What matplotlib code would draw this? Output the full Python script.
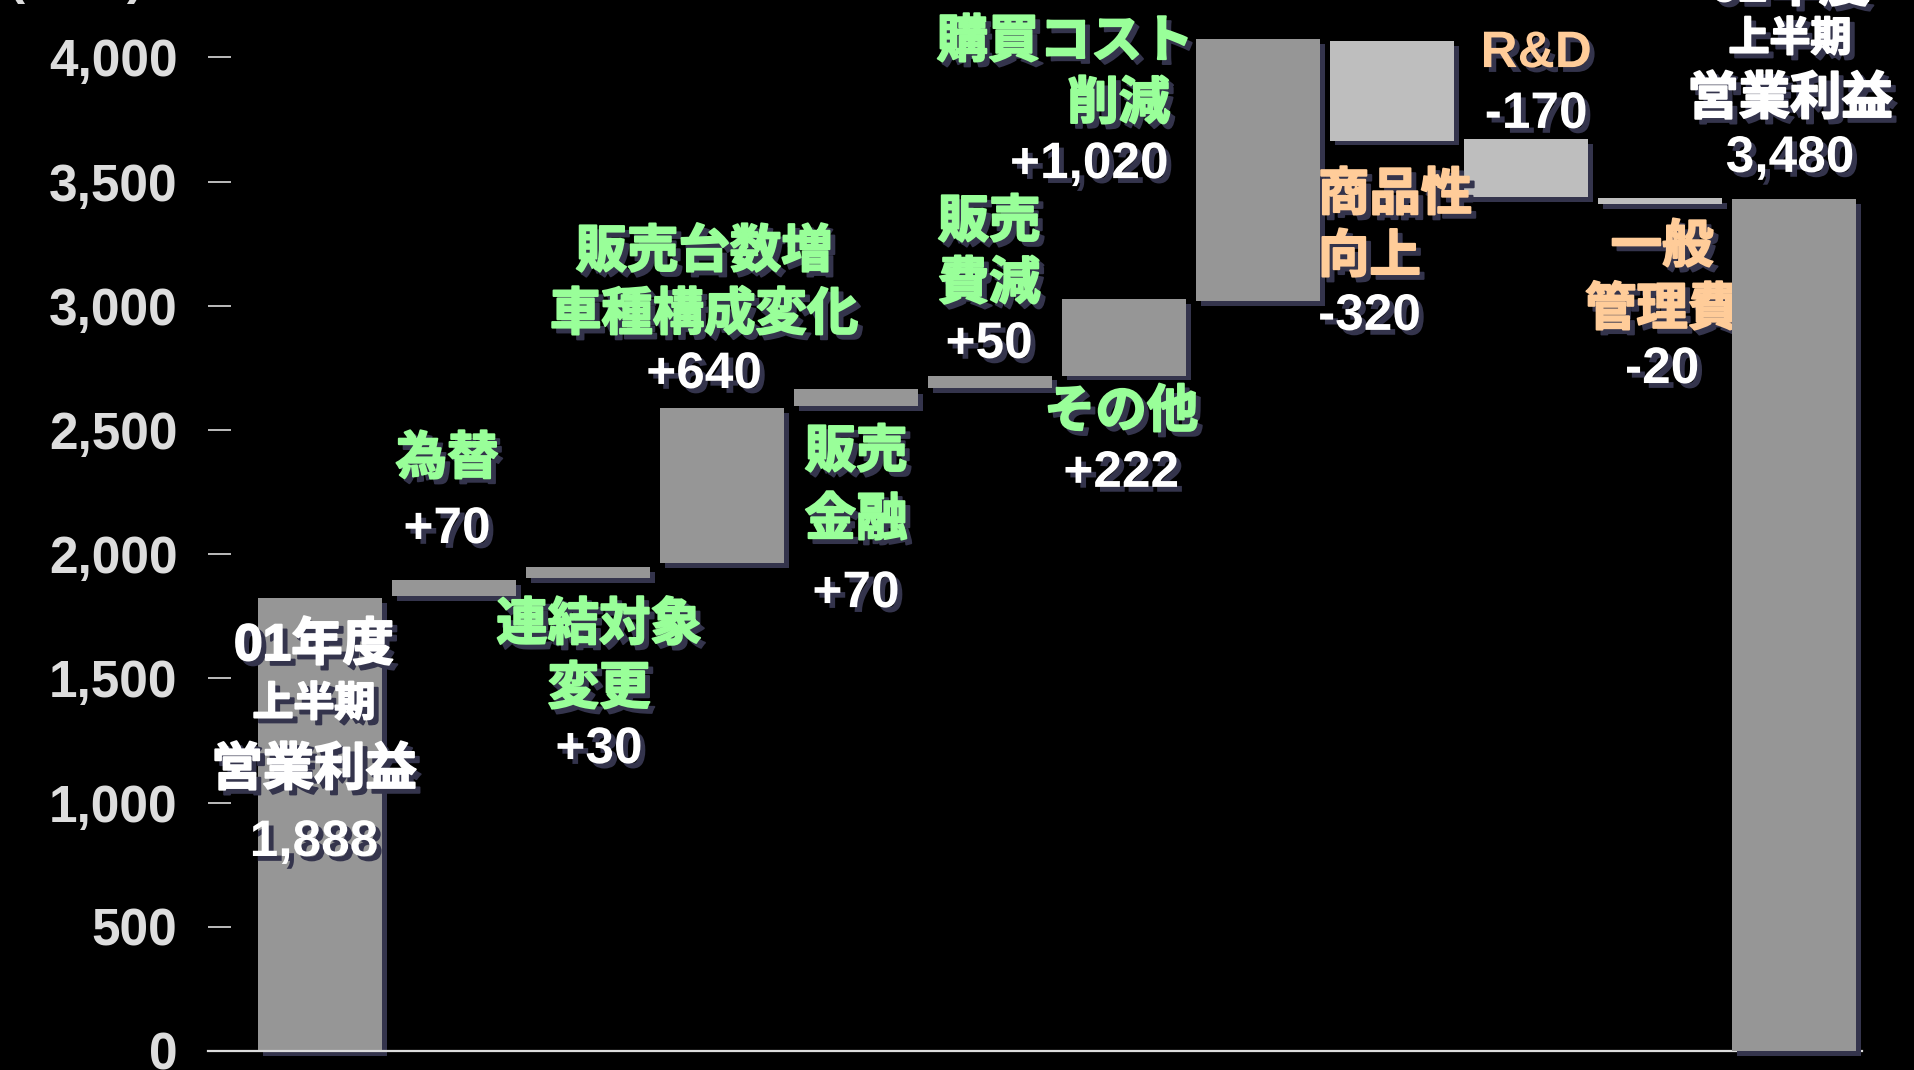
import matplotlib
matplotlib.use("Agg")
import matplotlib.pyplot as plt
import matplotlib.patheffects as pe

# operating profit bridge, 億円 (01年度上半期 -> 02年度上半期)
steps = ["01年度\n上半期\n営業利益", "為替", "連結対象\n変更", "販売台数増\n車種構成変化",
         "販売\n金融", "販売\n費減", "その他", "購買コスト\n削減", "商品性\n向上", "R&D",
         "一般\n管理費", "02年度\n上半期\n営業利益"]
value_text = ["1,888", "+70", "+30", "+640", "+70", "+50", "+222", "+1,020",
              "-320", "-170", "-20", "3,480"]
# bar extents as drawn on the slide (hand-drawn, not exactly to scale with the labels)
bar_low = [0, 1832, 1905, 1965, 2598, 2670, 2719, 3019, 3665, 3439, 3409, 0]
bar_high = [1825, 1896, 1947, 2589, 2664, 2719, 3027, 4073, 4065, 3670, 3433, 3429]
ytick_vals = [0, 500, 1000, 1500, 2000, 2500, 3000, 3500, 4000]
ytick_text = ["0", "500", "1,000", "1,500", "2,000", "2,500", "3,000", "3,500", "4,000"]

GREEN, PEACH, WHITE = "#99ff99", "#ffcc99", "#ffffff"
SHADOW = "#34344c"
name_color = [WHITE] + [GREEN] * 7 + [PEACH] * 3 + [WHITE]
bar_color = ["#969696"] * 8 + ["#bebebe"] * 3 + ["#969696"]

# label anchor x (one per block or one per line), alignment, baseline of every line
label_pos = [
    (-0.045, "center", [1574, 1349, 1071, 785]),
    (0.948, "center", [2323, 2045]),
    (2.082, "center", [1655, 1397, 1159]),
    (2.866, "center", [3156, 2903, 2669]),
    (4.0, "center", [2351, 2077, 1787]),
    (4.993, "center", [3277, 3027, 2790]),
    (5.978, "center", [2512, 2271]),
    ([5.56, 5.96, 5.74], "center", [4002, 3752, 3514]),
    (7.448, "left", [3386, 3136, 2903]),
    (9.075, "center", [3961, 3716]),
    (10.015, "center", [3176, 2923, 2689]),
    (10.97, "center", [4227, 4026, 3772, 3539]),
]

plt.rcParams["font.family"] = ["Liberation Sans", "Noto Sans CJK JP"]
plt.rcParams["font.weight"] = "bold"

W, H = 1914, 1070
fig = plt.figure(figsize=(W / 100, H / 100), dpi=100, facecolor="black")
ax = fig.add_axes([208 / W, 19 / H, (1862 - 208) / W, 1051 / H])
ax.set_facecolor("black")
ax.set_xlim(-0.836, 11.507)
ax.set_ylim(0, 4231)

OFF = (3.5, -3.5)
bar_fx = [pe.SimplePatchShadow(offset=OFF, shadow_rgbFace=SHADOW, alpha=1), pe.Normal()]


def text_fx(color, thick):
    # slide text: heavy gothic with a flat dark drop shadow
    if not thick:
        return [pe.SimplePatchShadow(offset=OFF, shadow_rgbFace=SHADOW, alpha=1), pe.Normal()]
    return [pe.Stroke(offset=OFF, linewidth=1.4, foreground=SHADOW),
            pe.SimplePatchShadow(offset=OFF, shadow_rgbFace=SHADOW, alpha=1),
            pe.Stroke(linewidth=1.4, foreground=color), pe.Normal()]


xs = range(len(steps))
heights = [h - l for l, h in zip(bar_low, bar_high)]
bars = ax.bar(xs, heights, bottom=bar_low, width=0.92, color=bar_color,
              linewidth=0, zorder=3, clip_on=False)
for b in bars:
    b.set_path_effects(bar_fx)
bars[-1].set_zorder(6)  # final bar sits over the 一般管理費 label like on the slide

for i, (x, ha, ys) in enumerate(label_pos):
    lines = steps[i].split("\n") + [value_text[i]]
    x_list = x if isinstance(x, list) else [x] * len(lines)
    for j, (line, y) in enumerate(zip(lines, ys)):
        is_value = j == len(lines) - 1
        color = WHITE if is_value else name_color[i]
        ax.text(x_list[j], y, line, ha=ha, va="baseline",
                fontsize=29.5 if line == "上半期" else 37, color=color,
                zorder=5, clip_on=False,
                path_effects=text_fx(color, not is_value and line != "R&D"))

ax.text(-1.82, 4259, "(億円)", ha="center", va="baseline", fontsize=37,
        color="#dddddd", clip_on=False)

for s in ["left", "top", "right"]:
    ax.spines[s].set_visible(False)
ax.spines["bottom"].set_color("#dddddd")
ax.spines["bottom"].set_linewidth(1.6)
ax.spines["bottom"].set_zorder(4)
ax.set_xticks([])
ax.set_yticks(ytick_vals)
ax.set_yticklabels(ytick_text)
ax.tick_params(axis="y", direction="in", length=16.5, width=1.2, color="#dddddd",
               pad=22, labelsize=37, labelcolor="#dddddd")

fig.savefig("out.png", dpi=100, facecolor="black")
